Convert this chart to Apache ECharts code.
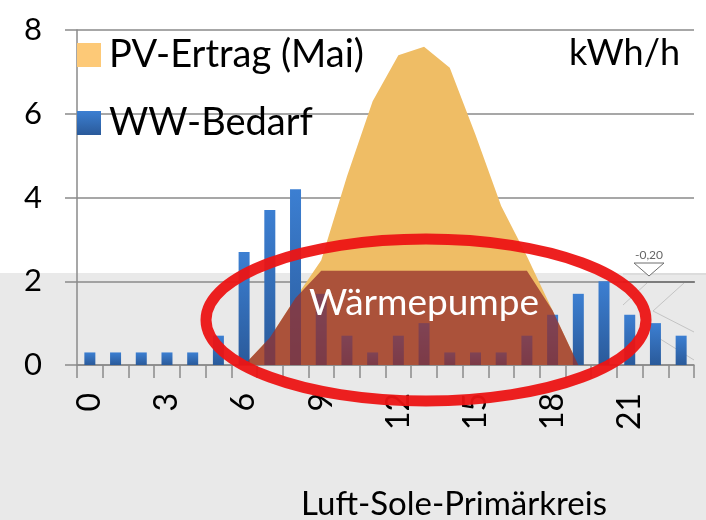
<!DOCTYPE html>
<html>
<head>
<meta charset="utf-8">
<script src="https://cdn.jsdelivr.net/npm/echarts@6/dist/echarts.min.js"></script>
<style>
  html, body { margin: 0; padding: 0; background: #fff; }
  #chart { width: 706px; height: 520px; }
</style>
</head>
<body>
<div id="chart"></div>
<script>
// Stunden 0..23
var hours = ['0','1','2','3','4','5','6','7','8','9','10','11','12','13','14','15','16','17','18','19','20','21','22','23'];
// PV-Ertrag (Mai), kWh/h
var pvValues = [0, 0, 0, 0, 0, 0, 0, 0.65, 1.6, 2.5, 4.5, 6.3, 7.4, 7.6, 7.1, 5.5, 3.8, 2.6, 1.3, 0, 0, 0, 0, 0];
// WW-Bedarf, kWh/h
var wwValues = [0.3, 0.3, 0.3, 0.3, 0.3, 0.7, 2.7, 3.7, 4.2, 1.7, 0.7, 0.3, 0.7, 1.0, 0.3, 0.3, 0.3, 0.7, 1.2, 1.7, 2.0, 1.2, 1.0, 0.7];
// Anteil Wärmepumpe (dunkle Fläche)
var wpValues = [0, 0, 0, 0, 0, 0, 0, 0.65, 1.6, 2.25, 2.25, 2.25, 2.25, 2.25, 2.25, 2.25, 2.25, 2.25, 1.3, 0, 0, 0, 0, 0];
var yTicks = [0, 2, 4, 6, 8];

var font = 'Lato, "Open Sans", sans-serif';
var axisGray = '#8a8a8a';

var chart = echarts.init(document.getElementById('chart'));
var option = {
  animation: false,
  textStyle: { fontFamily: font },
  grid: { left: 77, right: 12, top: 30, bottom: 155, containLabel: false, outerBoundsMode: 'none' },
  legend: {
    orient: 'vertical',
    left: 72,
    top: 31,
    itemWidth: 24,
    itemHeight: 24,
    itemGap: 30,
    icon: 'rect',
    selectedMode: false,
    textStyle: { fontSize: 38, color: '#000', fontFamily: font, padding: [0, 0, 0, 3] },
    data: [
      { name: 'PV-Ertrag (Mai)', itemStyle: { color: '#fdc977' } },
      { name: 'WW-Bedarf', itemStyle: { color: new echarts.graphic.LinearGradient(0, 0, 0, 1, [
        { offset: 0, color: '#3c7fd2' }, { offset: 1, color: '#2a5a9a' }]) } }
    ]
  },
  xAxis: {
    type: 'category',
    data: hours,
    boundaryGap: true,
    axisLine: { lineStyle: { color: axisGray, width: 1.5 } },
    axisTick: { show: true, interval: 0, length: 13, lineStyle: { color: axisGray, width: 1.5 } },
    axisLabel: { interval: 2, rotate: 90, margin: 28, fontSize: 32, color: '#000', fontFamily: font },
    splitLine: { show: false }
  },
  yAxis: {
    type: 'value',
    min: yTicks[0],
    max: yTicks[yTicks.length - 1],
    interval: 2,
    axisLine: { show: true, lineStyle: { color: axisGray, width: 1.5 } },
    axisTick: { show: true, length: 12, lineStyle: { color: axisGray, width: 1.5 } },
    axisLabel: { margin: 35, fontSize: 31, color: '#000', fontFamily: font },
    splitLine: { show: true, lineStyle: { color: axisGray, width: 1.5 } }
  },
  series: [
    {
      name: 'PV-Ertrag (Mai)',
      type: 'line',
      data: pvValues,
      z: 2,
      symbol: 'none',
      lineStyle: { width: 0 },
      itemStyle: { color: '#efbd65' },
      areaStyle: { color: '#efbd65', opacity: 1 }
    },
    {
      name: 'WW-Bedarf',
      type: 'bar',
      data: wwValues,
      z: 3,
      barWidth: 11,
      itemStyle: { color: new echarts.graphic.LinearGradient(0, 0, 0, 1, [
        { offset: 0, color: '#3c7fd2' }, { offset: 1, color: '#2a5a9a' }]) }
    },
    {
      name: 'Wärmepumpe',
      type: 'line',
      data: wpValues,
      z: 4,
      symbol: 'none',
      lineStyle: { width: 0 },
      itemStyle: { color: 'rgb(150,48,45)' },
      areaStyle: { color: 'rgb(150,48,45)', opacity: 0.76 }
    }
  ],
  graphic: [
    // grauer Hintergrund unten
    { type: 'rect', z: -10, silent: true, shape: { x: 0, y: 273, width: 706, height: 247 }, style: { fill: '#e9e9e9' } },
    // Skizze rechts
    { type: 'line', z: -5, shape: { x1: 623, y1: 274, x2: 706, y2: 274 }, style: { stroke: '#cfcfcf', lineWidth: 1 } },
    { type: 'line', z: 1, shape: { x1: 623, y1: 282, x2: 695, y2: 282 }, style: { stroke: '#6f6f6f', lineWidth: 1.5 } },
    { type: 'line', z: -5, shape: { x1: 623, y1: 305, x2: 647, y2: 283 }, style: { stroke: '#c4c4c4', lineWidth: 1 } },
    { type: 'line', z: -5, shape: { x1: 653, y1: 311, x2: 684, y2: 283 }, style: { stroke: '#c4c4c4', lineWidth: 1 } },
    { type: 'line', z: -5, shape: { x1: 653, y1: 311, x2: 694, y2: 332 }, style: { stroke: '#c4c4c4', lineWidth: 1 } },
    { type: 'line', z: -5, shape: { x1: 657, y1: 337, x2: 694, y2: 360 }, style: { stroke: '#c4c4c4', lineWidth: 1 } },
    { type: 'polygon', z: 1, shape: { points: [[634, 263], [664, 263], [649, 276]] }, style: { fill: '#fff', stroke: '#6f6f6f', lineWidth: 1 } },
    { type: 'text', z: 1, x: 649, y: 255, style: { text: '-0,20', font: '12px ' + font, fill: '#666', align: 'center', verticalAlign: 'middle' } },
    // Texte
    { type: 'text', z: 10, x: 680, y: 53, style: { text: 'kWh/h', font: '36px ' + font, fill: '#000', align: 'right', verticalAlign: 'middle' } },
    { type: 'text', z: 10, x: 424, y: 303, style: { text: 'Wärmepumpe', font: '37px ' + font, fill: '#fff', align: 'center', verticalAlign: 'middle' } },
    { type: 'text', z: 10, x: 454, y: 504, style: { text: 'Luft-Sole-Primärkreis', font: '33px ' + font, fill: '#000', align: 'center', verticalAlign: 'middle' } },
    // rote Ellipse
    { type: 'ellipse', z: 20, silent: true, shape: { cx: 426, cy: 320, rx: 220, ry: 81 }, style: { fill: 'none', stroke: 'rgba(236,20,20,0.95)', lineWidth: 11 } }
  ]
};
chart.setOption(option);
</script>
</body>
</html>
